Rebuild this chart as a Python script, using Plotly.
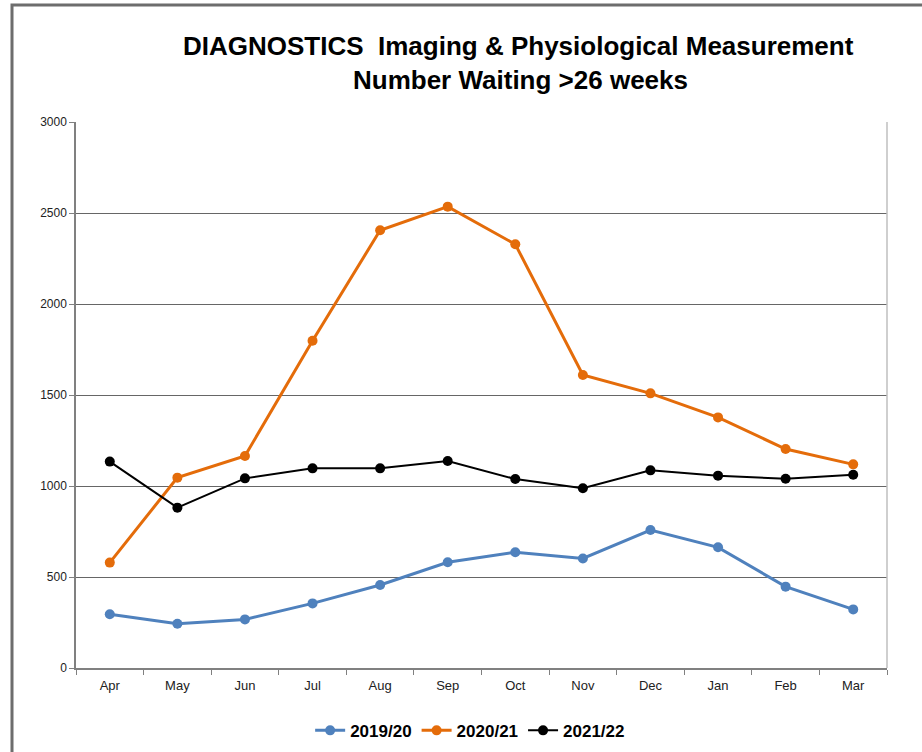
import plotly.graph_objects as go

months = ["Apr", "May", "Jun", "Jul", "Aug", "Sep", "Oct", "Nov", "Dec", "Jan", "Feb", "Mar"]
y2019 = [295, 243, 267, 355, 456, 581, 636, 602, 758, 663, 447, 322]
y2020 = [579, 1046, 1165, 1798, 2405, 2535, 2328, 1610, 1509, 1377, 1203, 1119]
y2021 = [1134, 881, 1042, 1097, 1097, 1137, 1038, 988, 1086, 1057, 1040, 1062]
yticks = [0, 500, 1000, 1500, 2000, 2500, 3000]

fig = go.Figure()
fig.add_trace(go.Scatter(x=months, y=y2019, name="2019/20", mode="lines+markers",
                         line=dict(color="#4F81BD", width=3), marker=dict(color="#4F81BD", size=10)))
fig.add_trace(go.Scatter(x=months, y=y2020, name="2020/21", mode="lines+markers",
                         line=dict(color="#E46C0A", width=3), marker=dict(color="#E46C0A", size=10)))
fig.add_trace(go.Scatter(x=months, y=y2021, name="2021/22", mode="lines+markers",
                         line=dict(color="#000000", width=2), marker=dict(color="#000000", size=10)))

fig.update_layout(
    width=922, height=752,
    margin=dict(l=76, r=35, t=122, b=84, autoexpand=False),
    paper_bgcolor="white", plot_bgcolor="white",
    font=dict(family="Liberation Sans, Arial, sans-serif", color="#000000"),
    showlegend=True,
    legend=dict(orientation="h", x=0.486, xanchor="center", y=-0.115, yanchor="middle",
                font=dict(size=17, family="Liberation Sans, Arial, sans-serif", weight="bold"),
                tracegroupgap=0),
    xaxis=dict(type="category", range=[-0.5, 11.5], showgrid=False,
               showline=True, linecolor="#808080", linewidth=1.5,
               ticks="outside", tickson="boundaries", ticklen=5, tickcolor="#808080",
               ticklabelstandoff=5,
               tickfont=dict(size=13, color="#222222")),
    yaxis=dict(range=[0, 3000], tickvals=yticks, showgrid=True, gridcolor="#666666", gridwidth=1,
               showline=True, linecolor="#808080", linewidth=1.5,
               ticks="outside", ticklen=5, tickcolor="#808080",
               tickfont=dict(size=12, color="#222222"), zeroline=False),
    annotations=[
        dict(text="<b>DIAGNOSTICS  Imaging & Physiological Measurement</b>", xref="paper", yref="paper",
             x=(518 - 76) / 811, y=(668 - 46) / 546, xanchor="center", yanchor="middle", showarrow=False,
             font=dict(size=26, color="#000000")),
        dict(text="<b>Number Waiting >26 weeks</b>", xref="paper", yref="paper",
             x=(520 - 76) / 811, y=(668 - 80) / 546, xanchor="center", yanchor="middle", showarrow=False,
             font=dict(size=26, color="#000000")),
    ],
    shapes=[
        dict(type="line", xref="paper", yref="paper", x0=1, x1=1, y0=0, y1=1,
             line=dict(color="#BFBFBF", width=1.5)),
        dict(type="rect", xref="paper", yref="paper", x0=(12 - 76) / 811, x1=1.2,
             y0=-0.3, y1=(668 - 5) / 546, line=dict(color="#6D6D6D", width=3)),
    ],
)

fig.write_html("out.html", config={"displayModeBar": False},
               post_script="document.body.style.margin='0';document.body.style.overflow='hidden';")
